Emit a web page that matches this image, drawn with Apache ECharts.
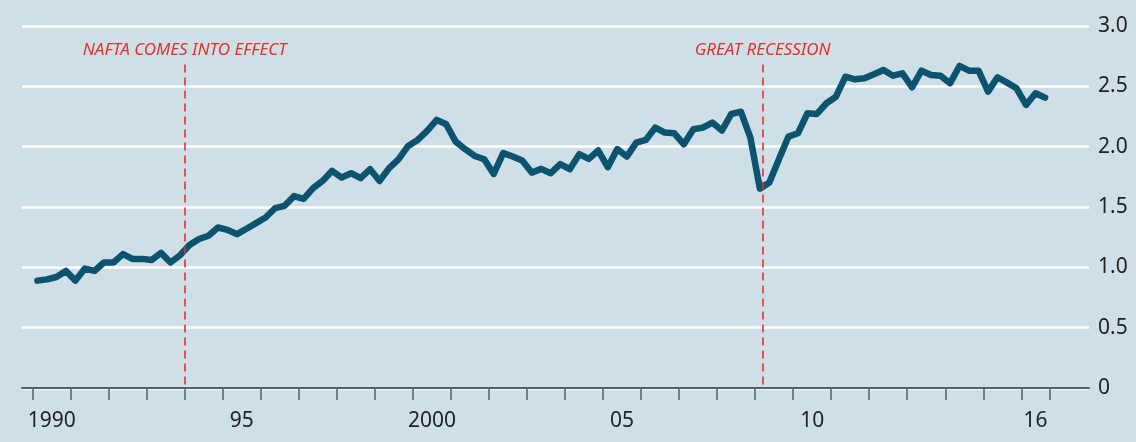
<!DOCTYPE html>
<html>
<head>
<meta charset="utf-8">
<title>Quarterly index, 1990-2016</title>
<style>
  html, body { margin: 0; padding: 0; background: #cfdfe7; }
  #chart { width: 1136px; height: 442px; }
</style>
</head>
<body>
<div id="chart"></div>
<script src="https://cdn.jsdelivr.net/npm/echarts@6/dist/echarts.min.js"></script>
<script>
// quarterly values, 1990 Q1 to 2016 Q3
var firstYear = 1990;
var values = [
  0.89, 0.90, 0.92, 0.97, 0.89, 0.99, 0.97, 1.04, 1.04, 1.11,
  1.07, 1.07, 1.06, 1.12, 1.04, 1.10, 1.185, 1.235, 1.262, 1.33,
  1.31, 1.275, 1.32, 1.366, 1.413, 1.49, 1.51, 1.59, 1.567, 1.656,
  1.716, 1.80, 1.744, 1.78, 1.739, 1.813, 1.716, 1.822, 1.896, 2.006,
  2.056, 2.13, 2.222, 2.186, 2.042, 1.979, 1.923, 1.896, 1.774, 1.946,
  1.918, 1.885, 1.785, 1.816, 1.78, 1.855, 1.813, 1.938, 1.899, 1.968,
  1.83, 1.98, 1.918, 2.034, 2.056, 2.158, 2.117, 2.111, 2.02, 2.145,
  2.158, 2.20, 2.133, 2.271, 2.29, 2.075, 1.652, 1.703, 1.896, 2.083,
  2.111, 2.277, 2.271, 2.36, 2.414, 2.58, 2.558, 2.567, 2.60, 2.636,
  2.588, 2.608, 2.492, 2.63, 2.594, 2.588, 2.525, 2.669, 2.63, 2.63,
  2.456, 2.575, 2.531, 2.484, 2.346, 2.443, 2.406
];

var quarters = [];
for (var i = 0; i < values.length; i++) {
  quarters.push((firstYear + Math.floor(i / 4)) + 'Q' + (i % 4 + 1));
}

// x axis
var tickYears = [];
for (var y = 1990; y <= 2016; y++) tickYears.push(y);
var lastTick = 2016.75;
var labelYears = [1990, 1995, 2000, 2005, 2010, 2016];
var labelTexts = ['1990', '95', '2000', '05', '10', '16'];

// events
var eventYears = [1994.0, 2009.2];
var eventLabels = ['NAFTA COMES INTO EFFECT', 'GREAT RECESSION'];

var seriesData = quarters.map(function (q, i) {
  var yr = parseInt(q.slice(0, 4), 10);
  var qn = parseInt(q.slice(5), 10);
  return [yr + (qn - 0.5) / 4, values[i]];
});

var labelPos = labelYears.map(function (y) {
  var end = Math.min(y + 1, lastTick);
  return (y + end) / 2;
});

var font = '"Noto Sans", "Open Sans", sans-serif';
var red = '#e8302a';

var chart = echarts.init(document.getElementById('chart'));

chart.setOption({
  backgroundColor: '#cfdfe7',
  animation: false,
  grid: { left: 22, right: 47, top: 26, bottom: 54 },
  xAxis: {
    type: 'value',
    min: 1989.72,
    max: 2017.78,
    axisLine: { show: true, lineStyle: { color: '#5a5f63', width: 2 } },
    axisTick: {
      show: true,
      length: 12,
      lineStyle: { color: '#5a5f63', width: 1.5 },
      customValues: tickYears.concat([lastTick])
    },
    splitLine: { show: false },
    axisLabel: {
      customValues: labelPos,
      margin: 23,
      fontSize: 21,
      lineHeight: 21,
      fontFamily: font,
      color: '#222',
      formatter: function (v) {
        for (var i = 0; i < labelPos.length; i++) {
          if (Math.abs(labelPos[i] - v) < 1e-6) return labelTexts[i];
        }
        return '';
      }
    }
  },
  yAxis: {
    type: 'value',
    position: 'right',
    min: 0,
    max: 3,
    interval: 0.5,
    axisLine: { show: false },
    axisTick: { show: false },
    splitLine: { show: true, lineStyle: { color: '#ffffff', width: 2.5 } },
    axisLabel: {
      margin: 9,
      fontSize: 21,
      fontFamily: font,
      color: '#222',
      formatter: function (v) { return v === 0 ? '0' : v.toFixed(1); }
    }
  },
  series: [{
    type: 'line',
    data: seriesData,
    symbol: 'none',
    lineStyle: { color: '#0c5370', width: 6.5, join: 'round', cap: 'round' },
    z: 3,
    markLine: {
      silent: true,
      symbol: ['none', 'none'],
      lineStyle: { color: red, width: 1.6, type: [8, 5] },
      label: {
        show: true,
        position: 'start',
        distance: 6,
        color: red,
        fontStyle: 'italic',
        fontSize: 17,
        fontFamily: font,
        formatter: function (p) { return p.data.name || p.name; }
      },
      data: eventYears.map(function (x, i) {
        return [
          { coord: [x, 2.68], name: eventLabels[i] },
          { coord: [x, 0] }
        ];
      })
    }
  }]
});
</script>
</body>
</html>
